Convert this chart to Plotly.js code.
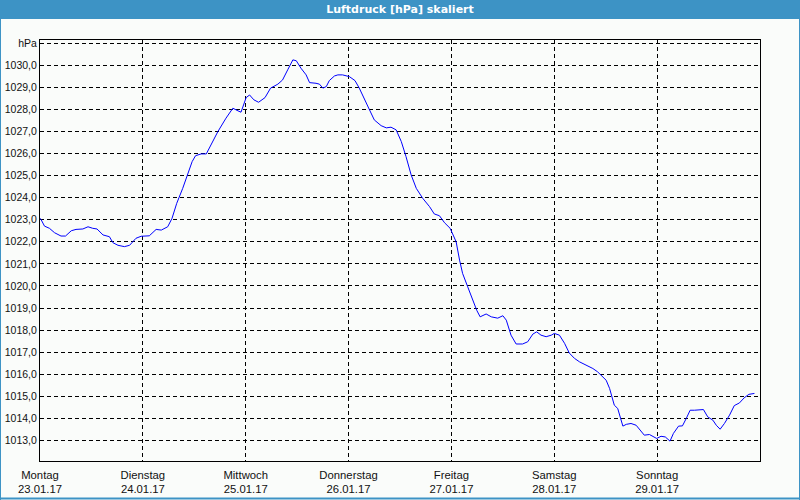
<!DOCTYPE html>
<html>
<head>
<meta charset="utf-8">
<script src="https://cdn.plot.ly/plotly-3.0.1.min.js"></script>
<style>
  html, body { margin: 0; padding: 0; background: #fafcfa; }
  #chart { width: 800px; height: 500px; }
</style>
</head>
<body>
<div id="chart"></div>
<script>
// Hours since Montag 23.01.17 00:00
const hours = [
  0.1, 1.05, 2.2, 3.4, 4.9, 5.95, 7.3, 8.4, 10.0, 11.2, 12.3, 13.3, 14.7, 16.2, 17.0, 18.2, 19.7, 20.9, 22.4, 23.6,
  25.5, 27.1, 28.3, 29.8, 30.8, 31.9, 33.3, 34.5, 35.5, 36.3, 37.6, 38.8, 39.9, 41.5, 43.4, 45.0, 46.2, 46.9,
  48.1, 48.9, 49.9, 51.0, 52.5, 53.8, 55.5, 56.6, 57.8, 59.0, 59.8, 60.9, 62.1, 62.9, 64.4, 65.2, 66.0, 66.8,
  67.5, 68.7, 69.5, 70.6, 72.2, 73.5, 74.5, 75.7, 76.9, 78.0, 79.6, 80.8, 81.9, 83.1, 84.3, 85.4, 86.6, 87.8,
  89.3, 90.9, 92.0, 93.2, 94.4, 95.7, 97.1, 97.9, 98.6, 99.8, 101.0, 101.9, 102.7, 104.1, 105.3, 106.8, 108.0,
  108.8, 109.9, 111.1, 112.6, 113.8, 115.0, 115.9, 116.9, 118.1, 119.3, 120.0, 121.2, 122.4, 123.5, 124.7,
  125.9, 127.4, 129.0, 130.1, 131.3, 132.1, 132.9, 133.5, 134.0, 134.8, 135.4, 136.0, 136.8, 137.9, 139.1,
  139.9, 141.0, 142.2, 143.0, 143.9, 144.9, 145.9, 147.0, 147.8, 149.0, 149.9, 150.8, 151.7, 152.7, 153.9,
  154.8, 155.8, 157.0, 157.8, 158.7, 159.7, 160.9, 162.0, 163.2, 164.3, 165.4, 166.7
];
const pressure = [
  1023.06, 1022.71, 1022.61, 1022.41, 1022.26, 1022.26, 1022.50, 1022.56, 1022.58, 1022.68, 1022.61, 1022.58, 1022.31, 1022.23, 1021.96, 1021.84, 1021.78, 1021.84, 1022.16, 1022.25,
  1022.27, 1022.56, 1022.53, 1022.68, 1023.06, 1023.74, 1024.42, 1025.10, 1025.63, 1025.90, 1025.98, 1025.98, 1026.39, 1026.99, 1027.60, 1028.05, 1027.93, 1027.87,
  1028.53, 1028.65, 1028.43, 1028.32, 1028.53, 1028.96, 1029.14, 1029.33, 1029.79, 1030.24, 1030.20, 1029.86, 1029.56, 1029.21, 1029.18, 1029.14, 1028.96, 1029.03,
  1029.30, 1029.51, 1029.56, 1029.56, 1029.48, 1029.30, 1028.96, 1028.50, 1027.97, 1027.52, 1027.26, 1027.16, 1027.19, 1027.07, 1026.54, 1025.86, 1025.03, 1024.42,
  1023.97, 1023.59, 1023.26, 1023.18, 1022.86, 1022.61, 1022.00, 1021.17, 1020.57, 1019.96, 1019.36, 1018.90, 1018.60, 1018.73, 1018.60, 1018.54, 1018.65,
  1018.45, 1017.77, 1017.37, 1017.37, 1017.47, 1017.82, 1017.92, 1017.77, 1017.70, 1017.77, 1017.85, 1017.77, 1017.40, 1016.96, 1016.72,
  1016.56, 1016.41, 1016.26, 1016.11, 1015.88, 1015.73, 1015.36, 1014.90, 1014.60, 1014.45, 1014.00, 1013.65, 1013.73, 1013.77, 1013.69,
  1013.50, 1013.24, 1013.27, 1013.19, 1013.09, 1013.19, 1013.16, 1012.97, 1013.32, 1013.65, 1013.66, 1014.00, 1014.37, 1014.37, 1014.40,
  1014.40, 1014.07, 1013.92, 1013.69, 1013.51, 1013.77, 1014.15, 1014.58, 1014.70, 1014.93, 1015.09, 1015.13
];

const dayTickVals = [0, 24, 48, 72, 96, 120, 144];
const dayNames = ["Montag", "Dienstag", "Mittwoch", "Donnerstag", "Freitag", "Samstag", "Sonntag"];
const dayDates = ["23.01.17", "24.01.17", "25.01.17", "26.01.17", "27.01.17", "28.01.17", "29.01.17"];
const yTickVals = [1013, 1014, 1015, 1016, 1017, 1018, 1019, 1020, 1021, 1022, 1023, 1024, 1025, 1026, 1027, 1028, 1029, 1030, 1031];
const yTickText = yTickVals.map(v => v === 1031 ? "hPa" : v.toFixed(1).replace(".", ","));
const chartTitle = "Luftdruck [hPa] skaliert";

const W = 800, H = 500;
const M = { l: 40, r: 40, t: 40, b: 39 };
const pw = W - M.l - M.r, ph = H - M.t - M.b;
const px = v => (v - M.l) / pw;          // pixel x -> paper
const py = v => 1 - (v - M.t) / ph;      // pixel y -> paper

const blue = "#3d93c5";
const bg = "#fafcfa";
const font = { family: "Liberation Sans, Arial, sans-serif", size: 10.5, color: "#111" };
const xfont = { family: "Liberation Sans, Arial, sans-serif", size: 11.3, color: "#111" };

const trace = {
  x: hours, y: pressure, type: "scatter", mode: "lines",
  line: { color: "#0000ff", width: 1 }, hoverinfo: "skip"
};

const layout = {
  width: W, height: H,
  margin: M,
  paper_bgcolor: bg, plot_bgcolor: bg,
  showlegend: false,
  font: font,
  title: {
    text: "<b>" + chartTitle + "</b>",
    font: { family: "DejaVu Sans, sans-serif", size: 11, color: "#ffffff" },
    xref: "paper", x: 0.5, xanchor: "center",
    yref: "container", y: 1 - 9.5 / H, yanchor: "middle"
  },
  xaxis: {
    range: [0, 168], tickmode: "array", tickvals: dayTickVals,
    ticktext: dayNames.map((d, i) => d + "<br>" + dayDates[i]),
    ticks: "", ticklabelstandoff: 3,
    showgrid: true, gridcolor: "#000", gridwidth: 1, griddash: "4px,3px",
    showline: true, linecolor: "#000", linewidth: 1, mirror: true, zeroline: false,
    tickfont: xfont, fixedrange: true
  },
  yaxis: {
    range: [1012.07, 1031.14], tickmode: "array", tickvals: yTickVals, ticktext: yTickText,
    ticks: "", showgrid: true, gridcolor: "#000", gridwidth: 1, griddash: "4px,3px",
    showline: true, linecolor: "#000", linewidth: 1, mirror: true, zeroline: false,
    tickfont: font, fixedrange: true
  },
  shapes: [
    { type: "rect", xref: "paper", yref: "paper", x0: px(0), x1: px(W), y0: py(0), y1: py(19),
      fillcolor: blue, line: { width: 0 }, layer: "below" },
    { type: "line", xref: "paper", yref: "paper", x0: px(0.5), x1: px(0.5), y0: py(0), y1: py(500),
      line: { color: blue, width: 1 } },
    { type: "line", xref: "paper", yref: "paper", x0: px(799.5), x1: px(799.5), y0: py(0), y1: py(500),
      line: { color: blue, width: 1 } },
    { type: "line", xref: "paper", yref: "paper", x0: px(0), x1: px(800), y0: py(498.5), y1: py(498.5),
      line: { color: blue, width: 2 } }
  ]
};

Plotly.newPlot("chart", [trace], layout, { displayModeBar: false, staticPlot: true });
</script>
</body>
</html>
